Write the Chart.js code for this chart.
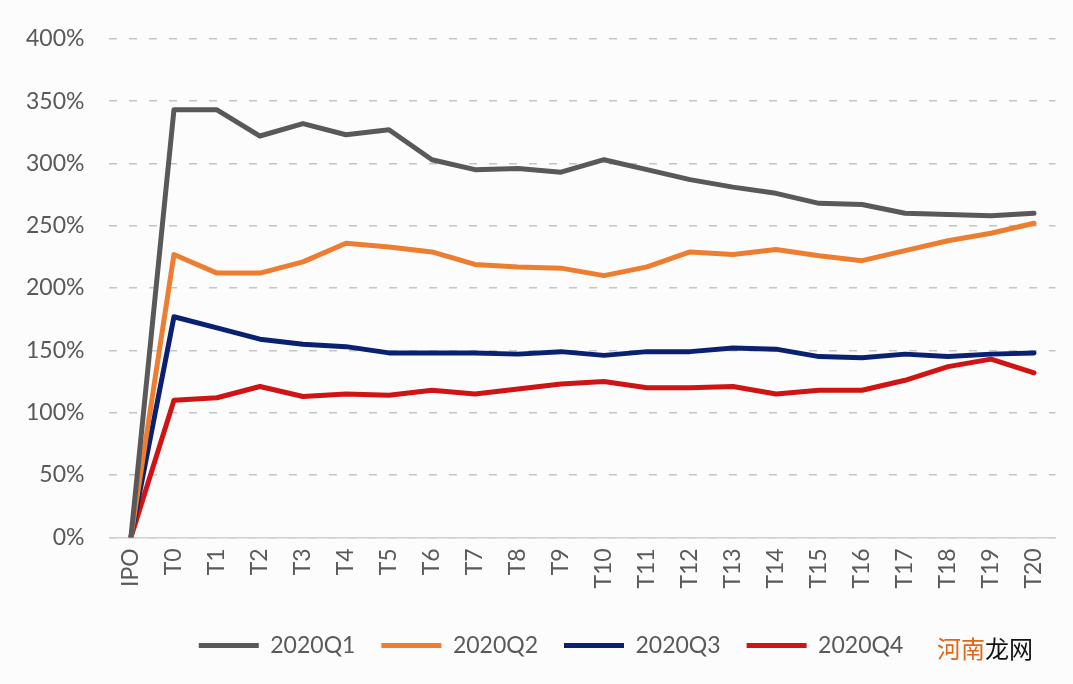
<!DOCTYPE html>
<html>
<head>
<meta charset="utf-8">
<script src="https://cdn.jsdelivr.net/npm/chart.js@4.4.1/dist/chart.umd.min.js"></script>
<style>
  html, body { margin:0; padding:0; background:#fcfcfd; }
  #wrap { position:relative; width:1073px; height:684px; }
  #mark { position:absolute; left:937px; top:630px; font:24px "Noto Sans CJK SC"; color:#111; }
  #mark span { color:#e0661a; }
</style>
</head>
<body>
<div id="wrap">
  <canvas id="c" width="1073" height="684"></canvas>
  <div id="mark"><span>河南</span>龙网</div>
</div>
<script>
// ====== データ ======
const labels = ['IPO','T0','T1','T2','T3','T4','T5','T6','T7','T8','T9','T10',
                'T11','T12','T13','T14','T15','T16','T17','T18','T19','T20'];
const q1 = [0,343,343,322,332,323,327,303,295,296,293,303,295,287,281,276,268,267,260,259,258,260];
const q2 = [0,227,212,212,221,236,233,229,219,217,216,210,217,229,227,231,226,222,230,238,244,252];
const q3 = [0,177,168,159,155,153,148,148,148,147,149,146,149,149,152,151,145,144,147,145,147,148];
const q4 = [0,110,112,121,113,115,114,118,115,119,123,125,120,120,121,115,118,118,126,137,143,132];
const yTicks = [0,50,100,150,200,250,300,350,400];

const txt = '#595959';
const font = { family:'Lato', size:23 };

function ds(label, data, color){
  return { label, data, borderColor:color, backgroundColor:color, borderWidth:5,
           pointRadius:0, tension:0, borderCapStyle:'round', borderJoinStyle:'round' };
}

// 凡例を少し右へ
const legendShift = {
  id:'legendShift',
  afterLayout(chart){ chart.legend.left += 44; }
};

new Chart(document.getElementById('c').getContext('2d'), {
  type:'line',
  data:{
    labels,
    datasets:[
      ds('2020Q1', q1, '#595959'),
      ds('2020Q2', q2, '#ed7d31'),
      ds('2020Q3', q3, '#0a2070'),
      ds('2020Q4', q4, '#d01313'),
    ]
  },
  options:{
    responsive:false,
    animation:false,
    layout:{ padding:{ left:1, right:16, top:24, bottom:17 } },
    plugins:{
      legend:{
        position:'bottom',
        title:{ display:true, text:' ', padding:0, font:{ size:7 } },
        labels:{ color:txt, font:{ family:'Lato', size:23 }, usePointStyle:true, pointStyle:'line',
                 pointStyleWidth:60, boxHeight:23, padding:26 }
      },
      tooltip:{ enabled:false }
    },
    scales:{
      x:{
        offset:true,
        grid:{ display:false, drawTicks:false },
        border:{ color:'#d0d0d0', width:1.5 },
        ticks:{ color:txt, font, minRotation:90, maxRotation:90, padding:11, autoSkip:false }
      },
      y:{
        min:0, max:400,
        afterBuildTicks:(s)=>{ s.ticks = yTicks.map(v=>({ value:v })); },
        grid:{ color:'#c4c4c4', lineWidth:1.5, drawTicks:false },
        border:{ display:false, dash:[8,12] },
        ticks:{ color:txt, font, padding:25, callback:(v)=>v+'%' }
      }
    }
  },
  plugins:[legendShift]
});
</script>
</body>
</html>
